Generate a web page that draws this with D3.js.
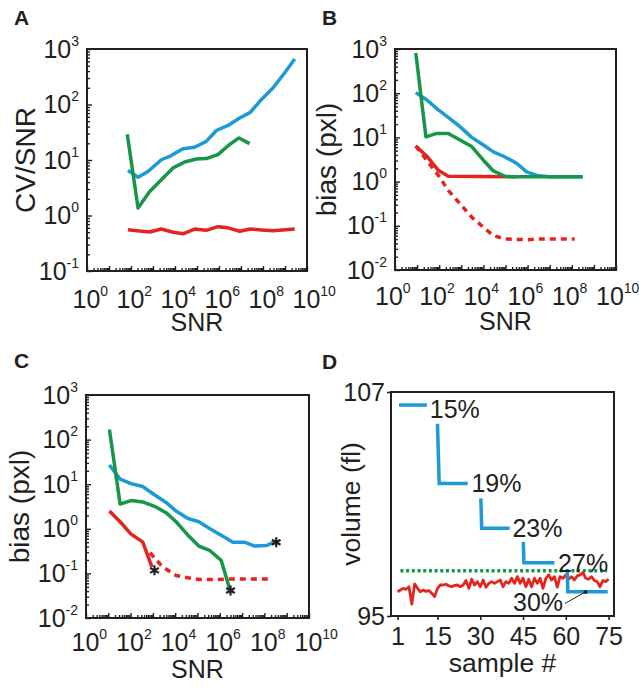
<!DOCTYPE html>
<html>
<head>
<meta charset="utf-8">
<script src="https://cdn.jsdelivr.net/npm/d3@7"></script>
<style>
body { margin: 0; background: #fff; }
svg { display: block; font-family: "Liberation Sans", Arial, sans-serif; }
</style>
</head>
<body>
<script>
// ---- data (x values for A-C are log10(SNR)) ----
// Panel A: CV/SNR
const aBlueX = [1.86, 2.32, 2.77, 3.38, 3.83, 4.36, 4.89, 5.42, 5.88, 6.41, 6.94, 7.42, 7.92, 8.45, 8.98, 9.44];
const aBlueY = [6.5, 4.9, 6.2, 10.1, 12, 16, 17, 21.7, 34, 42, 57, 72, 122, 198, 369, 660];
const aGreenX = [1.83, 2.32, 2.85, 3.38, 3.91, 4.44, 4.97, 5.42, 5.95, 6.48, 6.91, 7.39];
const aGreenY = [29, 1.36, 2.7, 4.4, 7.2, 9.2, 10.4, 10.6, 12.5, 19, 25, 19.7];
const aRedX = [1.86, 2.39, 2.85, 3.38, 3.91, 4.39, 4.89, 5.42, 5.95, 6.41, 6.94, 7.42, 7.92, 8.45, 8.9, 9.44];
const aRedY = [0.556, 0.525, 0.505, 0.57, 0.5, 0.47, 0.57, 0.54, 0.63, 0.6, 0.52, 0.57, 0.55, 0.53, 0.55, 0.57];

// Panel B: bias (pxl)
const bBlueX = [0.94, 1.43, 1.96, 2.41, 2.94, 3.47, 4.0, 4.45, 4.98, 5.5, 5.96, 6.49, 7.0, 8.49];
const bBlueY = [103, 71, 42, 28.5, 17.5, 10, 6.7, 4.7, 3.6, 2.6, 1.66, 1.35, 1.28, 1.28];
const bGreenX = [0.94, 1.40, 1.89, 2.41, 2.94, 3.47, 4.0, 4.45, 4.98, 5.5, 8.49];
const bGreenY = [815, 10.3, 12.3, 12.3, 8.7, 6.2, 3.05, 1.74, 1.32, 1.28, 1.28];
const bRedX = [0.94, 1.43, 1.96, 2.41, 5.5];
const bRedY = [6.4, 3.8, 1.8, 1.32, 1.28];
const bRedDashX = [0.94, 1.43, 1.96, 2.41, 2.94, 3.47, 4.0, 4.45, 4.98, 5.5, 5.96, 6.49, 7.0, 7.45, 8.13];
const bRedDashY = [6.4, 3.05, 1.39, 0.635, 0.316, 0.157, 0.093, 0.06, 0.0507, 0.049, 0.0485, 0.05, 0.05, 0.05, 0.05];

// Panel C: bias (pxl)
const cBlueX = [1.05, 1.53, 2.02, 2.54, 3.07, 3.59, 4.04, 4.57, 5.06, 5.54, 6.06, 6.59, 7.11, 7.56, 8.08, 8.53];
const cBlueY = [27, 13, 10.3, 8.9, 5.8, 3.9, 2.5, 1.7, 1.44, 1.02, 0.72, 0.5, 0.5, 0.41, 0.42, 0.52];
const cGreenX = [1.05, 1.53, 2.02, 2.54, 3.07, 3.59, 4.04, 4.57, 5.06, 5.54, 6.06, 6.44];
const cGreenY = [168, 3.6, 4.3, 4.0, 3.2, 2.3, 1.44, 0.72, 0.41, 0.33, 0.196, 0.045];
const cRedX = [1.05, 1.53, 2.02, 2.54, 2.96];
const cRedY = [2.5, 1.44, 0.76, 0.51, 0.139];
const cRedDashX = [2.87, 3.44, 4.04, 4.57, 5.09, 5.84, 6.59, 7.34, 8.26];
const cRedDashY = [0.29, 0.139, 0.09, 0.08, 0.073, 0.073, 0.075, 0.075, 0.075];
const cStarX = [3.07, 6.48, 8.53];
const cStarY = [0.117, 0.0415, 0.5];

// Panel D: volume (fl) per sample
const dRed = [96.30, 96.39, 96.48, 96.43, 96.57, 95.64, 96.72, 96.48, 96.30, 96.39,
  96.32, 96.36, 96.22, 96.04, 96.48, 96.66, 96.66, 96.70, 96.61, 96.57,
  96.64, 96.66, 96.57, 96.66, 96.90, 96.48, 96.97, 96.66, 96.84, 96.57,
  96.93, 96.54, 96.75, 96.84, 96.75, 96.84, 96.93, 96.57, 96.84, 96.75,
  97.02, 96.75, 97.11, 96.75, 97.02, 96.57, 96.97, 96.57, 97.02, 96.75,
  97.02, 96.48, 97.02, 97.20, 96.93, 97.11, 96.54, 97.11, 97.02, 97.20,
  96.97, 97.11, 96.93, 97.15, 97.20, 97.33, 97.02, 96.97, 97.11, 96.90,
  96.84, 96.57, 96.90, 96.84, 96.97];
const dGreenLevel = 97.43;
const dGreenRange = [2, 74.5];
const dSteps = [
  [[1.5, 106.3], [11.3, 106.3]],
  [[15, 105.3], [15.6, 102.1], [25.6, 102.1]],
  [[30.2, 101.3], [30.5, 99.7], [40.3, 99.7]],
  [[45.1, 98.97], [45.3, 97.85], [56, 97.85]],
  [[60.5, 97.5], [60.7, 96.3], [74.7, 96.3]]
];
const dStepLabels = ['15%', '19%', '23%', '27%', '30%'];
const dLabelPos = [[12.3, 106.1], [26.9, 102.1], [41.3, 99.7], [57.3, 97.85], [41.5, 95.75]];
const dLeader = [[59.7, 95.67], [66.9, 96.29]];
const sampleTicks = [1, 15, 30, 45, 60, 75];
const volumeTicks = [95, 107];

// ---- layout ----
const svgWidth = 639;
const svgHeight = 688;
const blue = '#1b9ad6';
const green = '#17964a';
const red = '#e2261f';
const ink = '#231f20';
const lineW = 3.5;

const svg = d3.select('body')
  .append('svg')
  .attr('width', svgWidth)
  .attr('height', svgHeight);

svg.append('rect').attr('width', svgWidth).attr('height', svgHeight).attr('fill', '#fff');

function zip(xs, ys) {
  return xs.map((v, i) => [v, ys[i]]);
}

// decade ticks and the 2..9 ticks in between
function decades(lo, hi) {
  return d3.range(lo, hi + 1).map(e => Math.pow(10, e));
}
function minors(lo, hi) {
  return d3.range(lo, hi).flatMap(e => d3.range(2, 10).map(k => k * Math.pow(10, e)));
}

function supLabel(sel, keep, offset) {
  sel.each(function (d) {
    const t = d3.select(this).text(null);
    const e = Math.round(Math.log10(d));
    if (!keep(e)) return;
    if (offset != null) t.attr('text-anchor', 'start').attr('x', offset);
    t.append('tspan').text('10');
    t.append('tspan').attr('dy', -12).attr('font-size', 14).text(e);
  });
}

function logPanel(p) {
  const x = d3.scaleLog().domain([1, 1e10]).range([p.x0, p.x1]);
  const y = d3.scaleLog().domain([Math.pow(10, p.yExp[0]), Math.pow(10, p.yExp[1])]).range([p.y1, p.y0]);
  const g = svg.append('g');

  // minor ticks (inward)
  g.append('g')
    .attr('transform', `translate(0,${p.y1})`)
    .call(d3.axisBottom(x).tickValues(minors(0, 10)).tickSize(-3).tickFormat(''))
    .call(s => s.select('.domain').remove());
  g.append('g')
    .attr('transform', `translate(${p.x0},0)`)
    .call(d3.axisLeft(y).tickValues(minors(p.yExp[0], p.yExp[1])).tickSize(-3).tickFormat(''))
    .call(s => s.select('.domain').remove());

  // major ticks with labels
  const xa = g.append('g')
    .attr('transform', `translate(0,${p.y1})`)
    .call(d3.axisBottom(x).tickValues(decades(0, 10)).tickSize(-5).tickPadding(p.xPad))
    .call(s => s.select('.domain').remove());
  xa.selectAll('.tick text').call(supLabel, e => e % 2 === 0, p.labelOff);

  const ya = g.append('g')
    .attr('transform', `translate(${p.x0},0)`)
    .call(d3.axisLeft(y).tickValues(decades(p.yExp[0], p.yExp[1])).tickSize(-5).tickPadding(8))
    .call(s => s.select('.domain').remove());
  ya.selectAll('.tick text').call(supLabel, () => true, null);

  g.selectAll('.tick line').attr('stroke', ink).attr('stroke-width', 1.4);
  g.selectAll('.tick text').attr('font-size', 25).attr('fill', ink)
    .attr('font-family', '"Liberation Sans", Arial, sans-serif');

  // box
  g.append('rect')
    .attr('x', p.x0).attr('y', p.y0)
    .attr('width', p.x1 - p.x0).attr('height', p.y1 - p.y0)
    .attr('fill', 'none').attr('stroke', ink).attr('stroke-width', 2);

  const line = d3.line().x(d => x(Math.pow(10, d[0]))).y(d => y(d[1]));
  p.series.forEach(s => {
    g.append('path')
      .attr('d', line(s.pts))
      .attr('fill', 'none')
      .attr('stroke', s.color)
      .attr('stroke-width', lineW)
      .attr('stroke-dasharray', s.dash || null)
      .attr('stroke-linejoin', 'round');
  });

  if (p.stars) {
    g.selectAll('.star')
      .data(p.stars)
      .enter()
      .append('path')
      .attr('d', d3.symbol(d3.symbolAsterisk, 70))
      .attr('transform', d => `translate(${x(Math.pow(10, d[0]))},${y(d[1])})`)
      .attr('fill', 'none')
      .attr('stroke', ink)
      .attr('stroke-width', 2.2);
  }

  // axis titles
  g.append('text')
    .attr('x', (p.x0 + p.x1) / 2).attr('y', p.titleY)
    .attr('text-anchor', 'middle').attr('font-size', 25).attr('fill', ink)
    .text('SNR');
  g.append('text')
    .attr('transform', `translate(${p.yTitleX},${(p.y0 + p.y1) / 2}) rotate(-90)`)
    .attr('text-anchor', 'middle').attr('font-size', 28).attr('fill', ink)
    .text(p.yTitle);
}

logPanel({
  x0: 87, x1: 307, y0: 49, y1: 271, yExp: [-1, 3], xPad: 19, labelOff: -15,
  titleY: 331, yTitle: 'CV/SNR', yTitleX: 35,
  series: [
    { pts: zip(aRedX, aRedY), color: red },
    { pts: zip(aBlueX, aBlueY), color: blue },
    { pts: zip(aGreenX, aGreenY), color: green }
  ]
});

logPanel({
  x0: 395, x1: 616, y0: 49, y1: 270, yExp: [-2, 3], xPad: 17, labelOff: -20.5,
  titleY: 330, yTitle: 'bias (pxl)', yTitleX: 336,
  series: [
    { pts: zip(bRedX, bRedY), color: red },
    { pts: zip(bBlueX, bBlueY), color: blue },
    { pts: zip(bGreenX, bGreenY), color: green },
    { pts: zip(bRedDashX, bRedDashY), color: red, dash: '6,5' }
  ]
});

logPanel({
  x0: 86, x1: 309, y0: 395, y1: 618, yExp: [-2, 3], xPad: 15, labelOff: -15,
  titleY: 678, yTitle: 'bias (pxl)', yTitleX: 29,
  series: [
    { pts: zip(cBlueX, cBlueY), color: blue },
    { pts: zip(cGreenX, cGreenY), color: green },
    { pts: zip(cRedX, cRedY), color: red },
    { pts: zip(cRedDashX, cRedDashY), color: red, dash: '6,5' }
  ],
  stars: zip(cStarX, cStarY)
});

// ---- panel D ----
const dBox = { x0: 391, x1: 614, y0: 392, y1: 616 };
const xD = d3.scaleLinear().domain([-1.3, 76.9]).range([dBox.x0, dBox.x1]);
const yD = d3.scaleLinear().domain([95, 107]).range([dBox.y1, dBox.y0]);
const gD = svg.append('g');

gD.append('g')
  .attr('transform', `translate(0,${dBox.y1})`)
  .call(d3.axisBottom(xD).tickValues(sampleTicks).tickSize(4).tickPadding(7))
  .call(s => s.select('.domain').remove());
gD.append('g')
  .attr('transform', `translate(${dBox.x0},0)`)
  .call(d3.axisLeft(yD).tickValues(volumeTicks).tickSize(4).tickPadding(2))
  .call(s => s.select('.domain').remove());
gD.selectAll('.tick line').attr('stroke', ink).attr('stroke-width', 1.6);
gD.selectAll('.tick text').attr('font-size', 25).attr('fill', ink)
  .attr('font-family', '"Liberation Sans", Arial, sans-serif');

gD.append('rect')
  .attr('x', dBox.x0).attr('y', dBox.y0)
  .attr('width', dBox.x1 - dBox.x0).attr('height', dBox.y1 - dBox.y0)
  .attr('fill', 'none').attr('stroke', ink).attr('stroke-width', 2);

gD.append('line')
  .attr('x1', xD(dGreenRange[0])).attr('x2', xD(dGreenRange[1]))
  .attr('y1', yD(dGreenLevel)).attr('y2', yD(dGreenLevel))
  .attr('stroke', green).attr('stroke-width', 3.5).attr('stroke-dasharray', '3,2.7');

const lineD = d3.line().x(d => xD(d[0])).y(d => yD(d[1]));
gD.append('path')
  .attr('d', lineD(dRed.map((v, i) => [i + 1, v])))
  .attr('fill', 'none').attr('stroke', red).attr('stroke-width', 2.8)
  .attr('stroke-linejoin', 'round');

dSteps.forEach(seg => {
  gD.append('path')
    .attr('d', lineD(seg))
    .attr('fill', 'none').attr('stroke', blue).attr('stroke-width', lineW);
});

gD.selectAll('.pct')
  .data(dStepLabels)
  .enter()
  .append('text')
  .attr('x', (d, i) => xD(dLabelPos[i][0]))
  .attr('y', (d, i) => yD(dLabelPos[i][1]))
  .attr('dy', '0.36em')
  .attr('font-size', 25)
  .attr('fill', ink)
  .text(d => d);

gD.append('line')
  .attr('x1', xD(dLeader[0][0])).attr('y1', yD(dLeader[0][1]))
  .attr('x2', xD(dLeader[1][0])).attr('y2', yD(dLeader[1][1]))
  .attr('stroke', ink).attr('stroke-width', 1);
gD.append('circle')
  .attr('cx', xD(dLeader[1][0])).attr('cy', yD(dLeader[1][1]))
  .attr('r', 2).attr('fill', ink);

gD.append('text')
  .attr('x', (dBox.x0 + dBox.x1) / 2).attr('y', 672)
  .attr('text-anchor', 'middle').attr('font-size', 26.5).attr('fill', ink)
  .text('sample #');
gD.append('text')
  .attr('transform', `translate(360,${(dBox.y0 + dBox.y1) / 2}) rotate(-90)`)
  .attr('text-anchor', 'middle').attr('font-size', 26.5).attr('fill', ink)
  .text('volume (fl)');

// panel letters
const letters = [['A', 14, 25], ['B', 322, 25], ['C', 14, 368], ['D', 322, 369]];
svg.selectAll('.letter')
  .data(letters)
  .enter()
  .append('text')
  .attr('x', d => d[1]).attr('y', d => d[2])
  .attr('font-size', 21).attr('font-weight', 'bold').attr('fill', ink)
  .text(d => d[0]);
</script>
</body>
</html>
